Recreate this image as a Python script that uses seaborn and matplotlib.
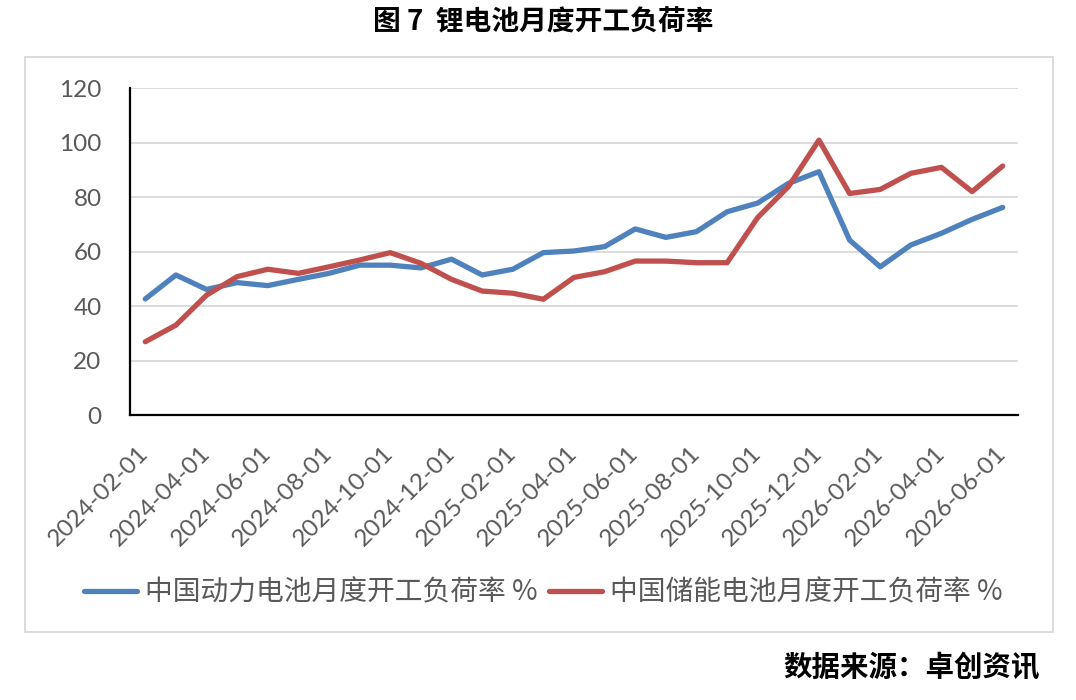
import matplotlib.pyplot as plt
import matplotlib.patches as mpatches
import pandas as pd
import seaborn as sns

# 月份（2024-02 ～ 2026-06）
months = pd.date_range('2024-02-01', '2026-06-01', freq='MS').strftime('%Y-%m-%d').tolist()

power_rate = [42.6, 51.4, 46.1, 48.6, 47.5, 49.8, 52.0, 55.0, 55.0, 54.0, 57.2,
              51.4, 53.5, 59.6, 60.2, 61.8, 68.3, 65.2, 67.3, 74.6, 77.8,
              85.0, 89.3, 64.2, 54.4, 62.4, 66.7, 71.8, 76.2]
storage_rate = [26.9, 33.0, 44.0, 50.8, 53.5, 52.0, 54.4, 56.9, 59.6, 55.7, 49.8,
                45.5, 44.7, 42.5, 50.5, 52.6, 56.5, 56.5, 55.9, 55.9, 72.5,
                83.8, 100.9, 81.3, 82.8, 88.7, 90.9, 82.0, 91.4]

series_names = ['中国动力电池月度开工负荷率 %', '中国储能电池月度开工负荷率 %']
colors = ['#4f81bd', '#c0504d']

df = pd.DataFrame({'月份': months, series_names[0]: power_rate, series_names[1]: storage_rate})
long_df = df.melt(id_vars='月份', var_name='系列', value_name='开工负荷率')

sns.set_theme(style='white')
plt.rcParams['font.family'] = ['Noto Sans CJK SC', 'DejaVu Sans']

fig = plt.figure(figsize=(10.76, 7), dpi=100)
ax = fig.add_axes([0.1208, 0.4071, 0.8253, 0.4671])

sns.lineplot(data=long_df, x='月份', y='开工负荷率', hue='系列', palette=colors,
             linewidth=3.8, legend=False, ax=ax, sort=False)

ax.set_xlim(-0.5, len(months) - 0.5)
ax.set_ylim(0, 120)
ax.set_yticks(range(0, 121, 20))
ax.yaxis.grid(True, color='#d9d9d9', linewidth=1.3)
ax.set_axisbelow(True)
ax.set_xlabel('')
ax.set_ylabel('')

tick_pos = list(range(0, len(months), 2))
ax.set_xticks(tick_pos)
ax.set_xticklabels([months[i] for i in tick_pos], rotation=45, ha='right',
                   va='center', rotation_mode='anchor', fontsize=17.5,
                   color='#595959', family='Lato')
ax.tick_params(axis='x', length=0, pad=25)
ax.tick_params(axis='y', direction='in', length=6, width=1.5, color='black',
               labelsize=17.5, labelcolor='#595959', pad=20.5)
for lbl in ax.get_yticklabels():
    lbl.set_family('Lato')

for side in ['top', 'right']:
    ax.spines[side].set_visible(False)
for side in ['left', 'bottom']:
    ax.spines[side].set_color('black')
    ax.spines[side].set_linewidth(1.6)

# 图表外框
fig.patches.append(mpatches.Rectangle((0.0232, 0.0971), 0.9554, 0.8214,
                                      transform=fig.transFigure, fill=False,
                                      edgecolor='#d9d9d9', linewidth=1.3))

handles = [plt.Line2D([], [], color=c, linewidth=3.8, solid_capstyle='round') for c in colors]
fig.legend(handles, series_names, loc='center', bbox_to_anchor=(0.505, 0.153),
           ncol=2, frameon=False, fontsize=20, labelcolor='#595959',
           handlelength=1.9, handletextpad=0.3, columnspacing=0.4)

fig.text(0.505, 0.968, '图 7  锂电池月度开工负荷率', ha='center', va='center',
         fontsize=20, fontweight='bold', color='black')
fig.text(0.966, 0.046, '数据来源：卓创资讯', ha='right', va='center',
         fontsize=20.5, fontweight='bold', color='black')

fig.savefig('out.png', dpi=100)
